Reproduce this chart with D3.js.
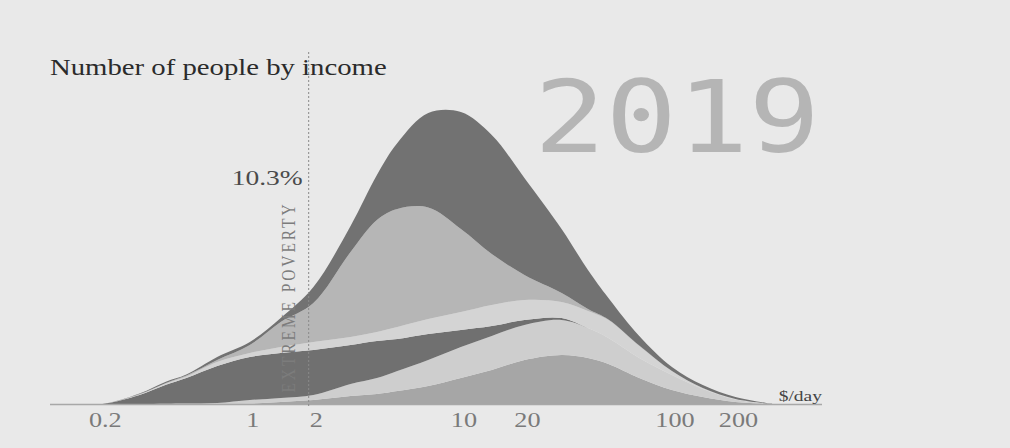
<!DOCTYPE html>
<html>
<head>
<meta charset="utf-8">
<script src="https://cdn.jsdelivr.net/npm/d3@7"></script>
<style>
  html, body { margin: 0; padding: 0; background: #e9e9e9; }
  svg { display: block; }
</style>
</head>
<body>
<svg id="chart" width="1010" height="448"></svg>
<script>
// ---- data ----
const incomes = [0.15, 0.2, 0.3, 0.4, 0.5, 0.7, 1, 1.4, 2, 3, 4, 5, 7, 10, 14, 20, 30, 40, 50, 70, 100, 140, 200, 300];
const layerNames = ["band1", "band2", "band3", "band4", "band5", "band6"];
const band1 = [0, 0, 0, 0, 0, 0, 0.3, 2, 4, 8, 10, 13, 18, 26, 34, 44, 49, 46, 40, 26, 14, 7, 2, 0];
const band2 = [0, 0, 0, 0.3, 0.5, 1, 3.7, 4, 5, 12, 16, 20, 26, 31, 34, 35, 35, 30, 26, 20, 15, 8, 2.5, 0];
const band3 = [0, 0, 9, 19, 25.5, 37, 43, 45, 45, 39, 37, 32, 26, 17, 10, 5, 2, 0, 0, 0, 0, 0, 0, 0];
const band4 = [0, 0, 0.5, 1.2, 1.5, 4, 4, 6, 8, 8, 9, 12, 15, 18, 21, 20, 16, 17, 18, 12, 4, 1, 0.5, 0];
const band5 = [0, 0, 0.5, 0.6, 1, 2, 8, 25, 39, 85, 112, 118, 111.5, 83, 51, 25, 9, 2, 0.5, 0.5, 0, 0, 0, 0];
const band6 = [0, 0, 0.5, 1.2, 1, 3, 3, 4, 16, 26, 45, 66, 94.5, 117, 119, 97, 64, 39, 21.5, 9.5, 4, 3, 2, 0];
const tickValues = [0.2, 1, 2, 10, 20, 100, 200];
const tickLabels = ["0.2", "1", "2", "10", "20", "100", "200"];
const povertyLine = 1.9;
const povertyShare = "10.3%";
const yearLabel = "2019";
const titleText = "Number of people by income";
const unitText = "$/day";
const povertyText = "EXTREME POVERTY";

// ---- styles ----
const colors = { band1: "#a6a6a6", band2: "#cecece", band3: "#707070", band4: "#d4d4d4", band5: "#b6b6b6", band6: "#727272" };
const SX = 1.25; // horizontal stretch of the source picture's text

const bands = [band1, band2, band3, band4, band5, band6];
const table = incomes.map((v, i) => {
  const row = { income: v };
  layerNames.forEach((k, j) => row[k] = bands[j][i]);
  return row;
});

const svg = d3.select("#chart");
const x = d3.scaleLog().domain([0.113, 514]).range([50, 822]);
const y = d3.scaleLinear().domain([0, 300]).range([404, 104]);

const stack = d3.stack().keys(layerNames);
const series = stack(table);

const area = d3.area()
  .x(d => x(d.data.income))
  .y0(d => y(d[0]))
  .y1(d => y(d[1]))
  .curve(d3.curveCatmullRom.alpha(0.5));

svg.append("g").selectAll("path")
  .data(series)
  .join("path")
  .attr("d", area)
  .attr("fill", d => colors[d.key]);

// baseline
svg.append("line")
  .attr("x1", x.range()[0]).attr("x2", x.range()[1])
  .attr("y1", y(0) + 0.5).attr("y2", y(0) + 0.5)
  .attr("stroke", "#a8a8a8").attr("stroke-width", 1.5);

// x axis labels
const axis = d3.axisBottom(x)
  .tickValues(tickValues)
  .tickFormat((d, i) => tickLabels[i])
  .tickSize(0)
  .tickPadding(0);
const gAxis = svg.append("g").attr("transform", `translate(0,${y(0)})`).call(axis);
gAxis.select(".domain").remove();
gAxis.selectAll("text")
  .attr("y", 0).attr("dy", 0)
  .attr("transform", `translate(2.5,23) scale(${SX},1)`)
  .attr("font-family", "Liberation Serif, Times New Roman, serif")
  .attr("font-size", 21)
  .attr("fill", "#7a7a7a");

function stretchedText(tx, ty, txt, opts) {
  const t = svg.append("text")
    .attr("transform", `translate(${tx},${ty}) scale(${opts.sx || SX},${opts.sy || 1})`)
    .attr("font-family", opts.family || "Liberation Serif, Times New Roman, serif")
    .attr("font-size", opts.size)
    .attr("fill", opts.fill)
    .attr("text-anchor", opts.anchor || "start")
    .text(txt);
  if (opts.spacing) t.attr("letter-spacing", opts.spacing);
  return t;
}

// poverty line
svg.append("line")
  .attr("x1", x(povertyLine)).attr("x2", x(povertyLine))
  .attr("y1", 52).attr("y2", 408)
  .attr("stroke", "#8a8a8a").attr("stroke-width", 1)
  .attr("stroke-dasharray", "2,2");

// vertical poverty label
svg.append("text")
  .attr("transform", `translate(${x(povertyLine) - 20},297) rotate(-90) scale(1,${SX})`)
  .attr("font-family", "Liberation Serif, Times New Roman, serif")
  .attr("font-size", 15.5)
  .attr("letter-spacing", 2.9)
  .attr("text-anchor", "middle")
  .attr("dy", "0.35em")
  .attr("fill", "#7c7c7c")
  .text(povertyText);

// texts
stretchedText(50, 74.5, titleText, { size: 23, fill: "#2b2b2b" });
stretchedText(x(povertyLine) - 6, 185, povertyShare, { size: 22, fill: "#4a4a4a", anchor: "end" });
stretchedText(822, 401, unitText, { size: 15, fill: "#444", anchor: "end", sx: 1.3 });
stretchedText(534, 152, yearLabel, { size: 99, fill: "#b5b5b5", family: "DejaVu Sans Mono, monospace", sx: 1.2 });
</script>
</body>
</html>
